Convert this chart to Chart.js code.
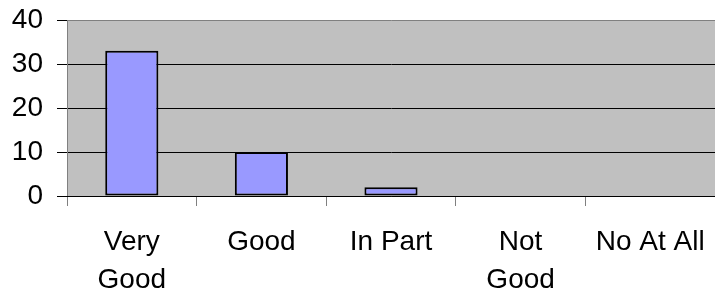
<!DOCTYPE html>
<html>
<head>
<meta charset="utf-8">
<script src="https://cdn.jsdelivr.net/npm/chart.js@4/dist/chart.umd.min.js"></script>
<style>
  html, body { margin: 0; padding: 0; background: #fff; }
  #wrap { width: 715px; height: 299px; }
</style>
</head>
<body>
<div id="wrap"><canvas id="chart"></canvas></div>
<script>
// --- data ---
const categories = [['Very', 'Good'], 'Good', 'In Part', ['Not', 'Good'], 'No At All'];
const counts = [33, 10, 2, 0, 0];
const yTicks = [0, 10, 20, 30, 40];

// grey plot area like the old spreadsheet charts
const plotBackground = {
    id: 'plotBackground',
    beforeDraw(chart) {
        const { ctx, chartArea: a } = chart;
        ctx.save();
        ctx.fillStyle = '#C0C0C0';
        ctx.fillRect(a.left, a.top, a.right - a.left, a.bottom - a.top);
        ctx.restore();
    }
};

new Chart(document.getElementById('chart'), {
    type: 'bar',
    data: {
        labels: categories,
        datasets: [{
            data: counts,
            backgroundColor: '#9999FF',
            borderColor: '#000000',
            borderWidth: 2,
            borderSkipped: false,
            categoryPercentage: 1,
            barPercentage: 0.41
        }]
    },
    options: {
        responsive: true,
        maintainAspectRatio: false,
        animation: false,
        layout: { padding: { top: 20, right: 0, left: 0, bottom: 0 } },
        plugins: {
            legend: { display: false },
            tooltip: { enabled: false }
        },
        scales: {
            y: {
                min: yTicks[0],
                max: yTicks[yTicks.length - 1],
                afterBuildTicks: (scale) => { scale.ticks = yTicks.map(v => ({ value: v })); },
                afterFit: (scale) => {
                    scale.width = 67;
                    scale.paddingTop = 0;
                    scale.paddingBottom = 0;
                },
                border: { color: '#808080', width: 1 },
                grid: {
                    color: (c) => c.tick && c.tick.value === 40 ? '#808080' : '#000000',
                    tickColor: '#000000',
                    tickLength: 10,
                    lineWidth: 1
                },
                ticks: {
                    color: '#000',
                    padding: 14,
                    font: { family: 'Liberation Sans, Arial, sans-serif', size: 28, lineHeight: 1 }
                }
            },
            x: {
                afterFit: (scale) => {
                    scale.height = 103;
                    scale.paddingLeft = 0;
                    scale.paddingRight = 0;
                },
                border: { color: '#000000', width: 1 },
                grid: {
                    offset: true,
                    drawOnChartArea: false,
                    tickColor: '#808080',
                    tickLength: 10
                },
                ticks: {
                    color: '#000',
                    padding: 17,
                    maxRotation: 0,
                    autoSkip: false,
                    font: { family: 'Liberation Sans, Arial, sans-serif', size: 28, lineHeight: 1.36 }
                }
            }
        }
    },
    plugins: [plotBackground]
});
</script>
</body>
</html>
